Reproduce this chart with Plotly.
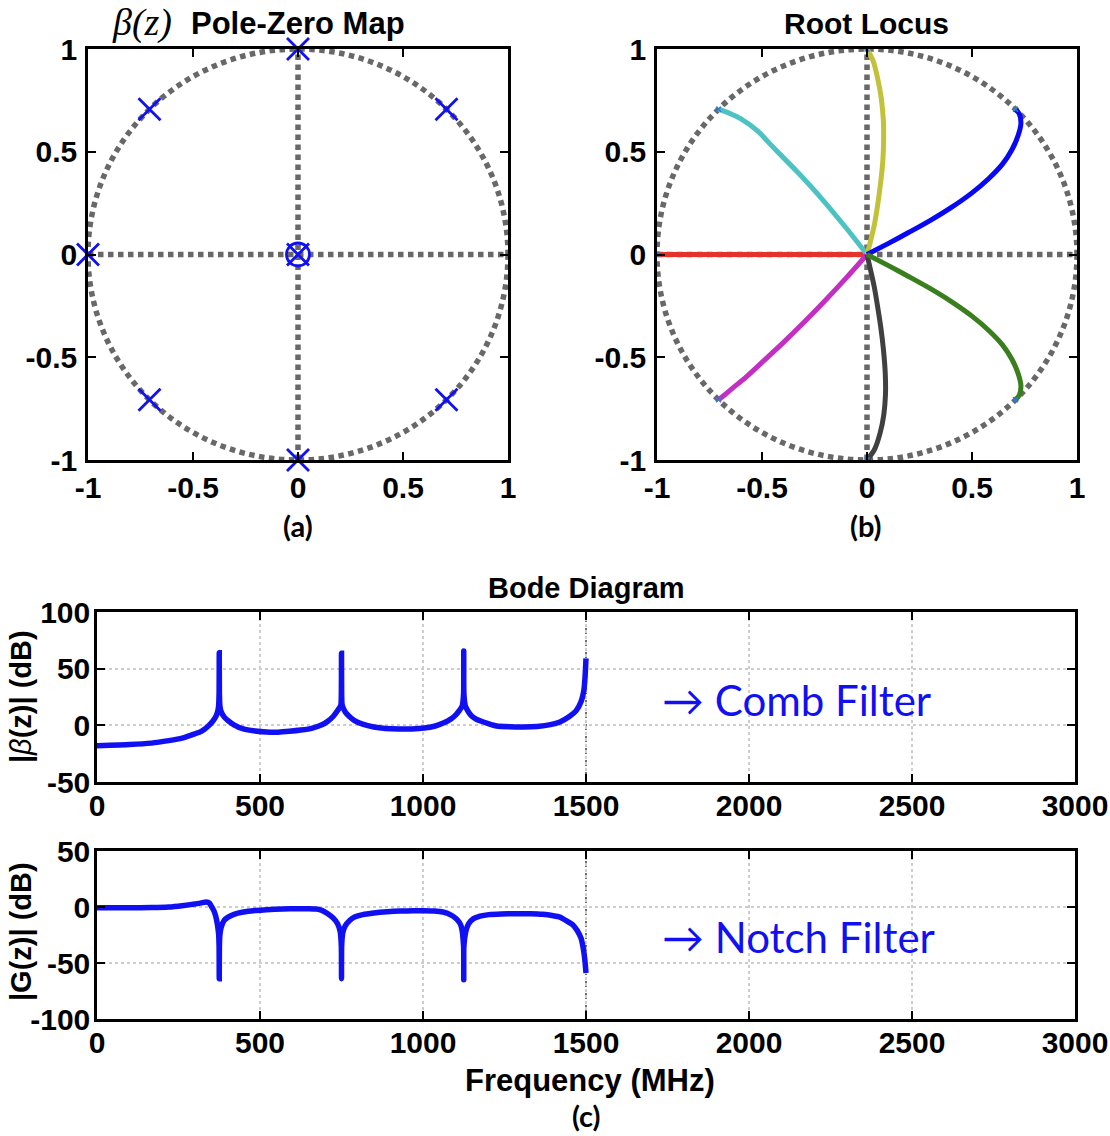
import plotly.graph_objects as go

# ---------------- data ----------------
# Pole-zero map of beta(z)
pole_x = [0.7071, 0.0, -0.7071, -1.0, -0.7071, 0.0, 0.7071, 0.0]
pole_y = [0.7071, 1.0, 0.7071, 0.0, -0.7071, -1.0, -0.7071, 0.0]
zero_x = [0.0]
zero_y = [0.0]

# Root locus branches (start at a pole on the unit circle, end at the origin)
blue_x = [0.707, 0.725, 0.733, 0.72, 0.69, 0.645, 0.58, 0.5, 0.4, 0.3, 0.2, 0.1, 0.0]
blue_y = [0.707, 0.685, 0.64, 0.58, 0.51, 0.44, 0.37, 0.3, 0.228, 0.165, 0.108, 0.053, 0.0]
green_x = [0.707, 0.725, 0.733, 0.72, 0.69, 0.645, 0.58, 0.5, 0.4, 0.3, 0.2, 0.1, 0.0]
green_y = [-0.707, -0.685, -0.64, -0.58, -0.51, -0.44, -0.37, -0.3, -0.228, -0.165, -0.108, -0.053, 0.0]
yellow_x = [0.0, 0.03, 0.05, 0.068, 0.078, 0.079, 0.075, 0.065, 0.052, 0.036, 0.018, 0.0]
yellow_y = [1.0, 0.94, 0.86, 0.76, 0.65, 0.55, 0.45, 0.35, 0.25, 0.15, 0.07, 0.0]
gray_x = [0.0, 0.035, 0.062, 0.08, 0.088, 0.087, 0.078, 0.065, 0.05, 0.035, 0.018, 0.0]
gray_y = [-1.0, -0.95, -0.87, -0.78, -0.68, -0.58, -0.46, -0.35, -0.25, -0.16, -0.08, 0.0]
cyan_x = [-0.707, -0.65, -0.6, -0.52, -0.448, -0.33, -0.214, -0.1, 0.0]
cyan_y = [0.707, 0.685, 0.66, 0.6, 0.523, 0.4, 0.27, 0.13, 0.0]
magenta_x = [-0.707, -0.68, -0.64, -0.58, -0.5, -0.4, -0.3, -0.2, -0.1, 0.0]
magenta_y = [-0.707, -0.685, -0.65, -0.6, -0.525, -0.43, -0.33, -0.225, -0.115, 0.0]
red_x = [-1.0, 0.0]
red_y = [0.0, 0.0]

# Bode magnitude of beta(z) (comb filter), MHz vs dB
beta_f = [0, 100, 167, 220, 261, 300, 320, 340, 355, 365, 370, 373, 374.5, 375, 375.5, 377, 381,
          390, 402, 420, 449, 485, 520, 555, 590, 625, 661, 690, 708, 725, 738, 748, 749.5, 750,
          750.5, 752, 761, 775, 790, 815, 849, 885, 925, 965, 1004, 1035, 1062, 1085, 1100, 1110,
          1120, 1124.5, 1125, 1125.5, 1130, 1138, 1150, 1165, 1179, 1200, 1226, 1265, 1309, 1350,
          1391, 1420, 1450, 1470, 1485, 1493, 1497, 1500]
beta_db = [-18, -17, -15.7, -13.5, -11.3, -7.5, -5.3, -1, 3.6, 8, 12, 17, 28, 64, 28, 17, 12,
           7.5, 4.2, 0.5, -3.2, -5, -5.9, -6, -5.3, -4.2, -2.4, 0.5, 3.6, 8, 13, 18, 28, 63.5,
           28, 18, 12, 7.5, 4.2, 1, -1.5, -2.8, -3.3, -3.2, -2.4, -0.8, 2, 5.5, 9, 12.5,
           17, 28, 65.5, 28, 17, 12.5, 8, 5.2, 3.6, 1.5, -0.6, -1.3, -1.5, -1,
           0.6, 3, 8, 13, 21, 30, 42, 59]

# Bode magnitude of G(z) (notch filter), MHz vs dB
g_f = [0, 100, 167, 220, 261, 300, 320, 335, 345, 352, 358, 364, 369, 373, 374.5, 375, 375.5, 377,
       381, 390, 402, 420, 449, 485, 520, 570, 614, 650, 673, 690, 708, 725, 738, 746, 749.5, 750,
       750.5, 754, 761, 775, 790, 815, 849, 890, 932, 970, 1002, 1035, 1061, 1085, 1102, 1112,
       1118, 1124.5, 1125, 1125.5, 1132, 1140, 1155, 1175, 1202, 1240, 1285, 1330, 1367, 1400,
       1420, 1438, 1460, 1473, 1485, 1491, 1496, 1500]
g_db = [-0.6, -0.6, -0.5, 0, 1.2, 2.7, 3.7, 4.5, 3.5, 0, -3, -8, -15, -24, -35, -64, -35, -25,
        -18, -12, -9, -6.5, -4.5, -3.2, -2.4, -1.8, -1.5, -1.5, -1.8, -3, -6, -10, -15, -22, -35, -64,
        -35, -23, -17, -12, -9, -6.8, -5.3, -4.2, -3.6, -3.4, -3.3, -3.6, -4.5, -7, -10.4, -14,
        -18, -35, -65, -35, -21, -15, -10.4, -8.2, -6.8, -6.2, -6, -6, -6.5, -7.8,
        -9, -12, -16, -21, -28, -36, -46, -59]

unit_ticks = [-1, -0.5, 0, 0.5, 1]
unit_labels = ["-1", "-0.5", "0", "0.5", "1"]
freq_ticks = [0, 500, 1000, 1500, 2000, 2500, 3000]
freq_labels = ["0", "500", "1000", "1500", "2000", "2500", "3000"]
beta_ticks = [-50, 0, 50, 100]
beta_labels = ["-50", "0", "50", "100"]
g_ticks = [-100, -50, 0, 50]
g_labels = ["-100", "-50", "0", "50"]

# ---------------- styling ----------------
W, H = 1110, 1136
BLUE = "#1010f2"
DOT_GRAY = "#686868"
TICK_FONT = dict(family="Liberation Sans", size=30, color="black", weight="bold")


def px_x(a, b):
    return [a / W, b / W]


def px_y(top, bottom):
    return [1 - bottom / H, 1 - top / H]


def axis_style(**kw):
    d = dict(showline=True, linewidth=2.5, linecolor="black", mirror="ticks",
             ticks="inside", ticklen=8, tickwidth=2, tickcolor="black",
             tickfont=TICK_FONT, showgrid=False, zeroline=False, fixedrange=True,
             automargin=False)
    d.update(kw)
    return d


fig = go.Figure()

# (a) pole-zero map
fig.add_trace(go.Scatter(x=pole_x, y=pole_y, mode="markers", xaxis="x", yaxis="y",
                         marker=dict(symbol="x-thin", size=22, color=BLUE,
                                     line=dict(width=2.8, color=BLUE)),
                         cliponaxis=False, showlegend=False))
fig.add_trace(go.Scatter(x=zero_x, y=zero_y, mode="markers", xaxis="x", yaxis="y",
                         marker=dict(symbol="circle-open", size=23, color=BLUE,
                                     line=dict(width=2.8, color=BLUE)),
                         cliponaxis=False, showlegend=False))

# (b) root locus
branches = [
    (red_x, red_y, "#e5322a"),
    (cyan_x, cyan_y, "#4cc2c2"),
    (magenta_x, magenta_y, "#c22fc2"),
    (yellow_x, yellow_y, "#c2c23a"),
    (gray_x, gray_y, "#404040"),
    (blue_x, blue_y, "#0808f5"),
    (green_x, green_y, "#3a7f1e"),
]
for bx, by, col in branches:
    fig.add_trace(go.Scatter(x=bx, y=by, mode="lines", xaxis="x2", yaxis="y2",
                             line=dict(color=col, width=5, shape="spline", smoothing=0.8),
                             showlegend=False))
fig.add_trace(go.Scatter(x=pole_x[:7], y=pole_y[:7], mode="markers", xaxis="x2", yaxis="y2",
                         marker=dict(symbol="x-thin", size=5, color="#2f7bd8",
                                     line=dict(width=1.5, color="#2f7bd8")),
                         cliponaxis=False, showlegend=False))

# (c) Bode magnitudes
fig.add_trace(go.Scatter(x=beta_f, y=beta_db, mode="lines", xaxis="x3", yaxis="y3",
                         line=dict(color=BLUE, width=5.5, shape="spline", smoothing=0.5),
                         showlegend=False))
fig.add_trace(go.Scatter(x=g_f, y=g_db, mode="lines", xaxis="x4", yaxis="y4",
                         line=dict(color=BLUE, width=5.5, shape="spline", smoothing=0.5),
                         showlegend=False))

unit_axis = dict(range=[-1, 1], tickvals=unit_ticks, ticktext=unit_labels)
grid = dict(showgrid=True, gridcolor="#cdcdcd", gridwidth=1.5, griddash="dot")

fig.update_layout(
    width=W, height=H, margin=dict(l=0, r=0, t=0, b=0, autoexpand=False),
    paper_bgcolor="white", plot_bgcolor="white",
    xaxis=axis_style(domain=px_x(88, 508), anchor="y", ticklabelstandoff=-1, **unit_axis),
    yaxis=axis_style(domain=px_y(49, 460), anchor="x", ticklabelstandoff=2, **unit_axis),
    xaxis2=axis_style(domain=px_x(657, 1077), anchor="y2", ticklabelstandoff=-1, **unit_axis),
    yaxis2=axis_style(domain=px_y(49, 460), anchor="x2", ticklabelstandoff=2, **unit_axis),
    xaxis3=axis_style(domain=px_x(97, 1075), anchor="y3", range=[0, 3000],
                      tickvals=freq_ticks, ticktext=freq_labels, ticklabelstandoff=-5, **grid),
    yaxis3=axis_style(domain=px_y(612, 782), anchor="x3", range=[-50, 100],
                      tickvals=beta_ticks, ticktext=beta_labels, ticklabelstandoff=-2, **grid),
    xaxis4=axis_style(domain=px_x(97, 1075), anchor="y4", range=[0, 3000],
                      tickvals=freq_ticks, ticktext=freq_labels, ticklabelstandoff=-5, **grid),
    yaxis4=axis_style(domain=px_y(851, 1019), anchor="x4", range=[-100, 50],
                      tickvals=g_ticks, ticktext=g_labels, ticklabelstandoff=-2, **grid),
)

# unit circles and dotted axes on the z-plane plots
dot_line = dict(color=DOT_GRAY, width=5.5, dash="5.5px,4.5px")
for xr, yr in (("x", "y"), ("x2", "y2")):
    fig.add_shape(type="circle", xref=xr, yref=yr, x0=-1, y0=-1, x1=1, y1=1,
                  line=dot_line, layer="below")
    fig.add_shape(type="line", xref=xr, yref=yr, x0=-1, y0=0, x1=1, y1=0,
                  line=dot_line, layer="below")
    fig.add_shape(type="line", xref=xr, yref=yr, x0=0, y0=-1, x1=0, y1=1,
                  line=dot_line, layer="below")

# Nyquist frequency marker on the Bode plots
for xr, yr in (("x3", "y3 domain"), ("x4", "y4 domain")):
    fig.add_shape(type="line", xref=xr, yref=yr, x0=1500, x1=1500, y0=0, y1=1,
                  line=dict(color="#333333", width=1.4, dash="2px,2px"), layer="below")

BOLD = dict(family="Liberation Sans", color="black", weight="bold")
LABEL = dict(family="Lato", color="black", weight="bold", size=29)


def note(text, xpx, ypx, font, xanchor="center", angle=0):
    fig.add_annotation(text=text, x=xpx / W, y=1 - ypx / H, xref="paper", yref="paper",
                       showarrow=False, xanchor=xanchor, yanchor="middle",
                       textangle=angle, font=font)


note("β(z)", 142, 22, dict(family="Liberation Serif", size=38, color="black", style="italic"))
note("Pole-Zero Map", 298, 23, dict(BOLD, size=31))
note("Root Locus", 866, 23, dict(BOLD, size=30))
note("(a)", 298, 525, LABEL)
note("(b)", 866, 525, LABEL)
note("Bode Diagram", 586, 588, dict(BOLD, size=29))
note('|<i style="font-weight:normal">β</i>(z)| (dB)', 21, 697, dict(BOLD, size=29), angle=-90)
note("|G(z)| (dB)", 21, 932, dict(BOLD, size=29), angle=-90)
note("Frequency (MHz)", 590, 1080, dict(BOLD, size=31))
note("(c)", 586, 1115, LABEL)
note("→ Comb Filter", 660, 700, dict(family="Lato", size=42, color=BLUE), xanchor="left")
note("→ Notch Filter", 660, 937, dict(family="Lato", size=42, color=BLUE), xanchor="left")

fig.write_html("out.html")
